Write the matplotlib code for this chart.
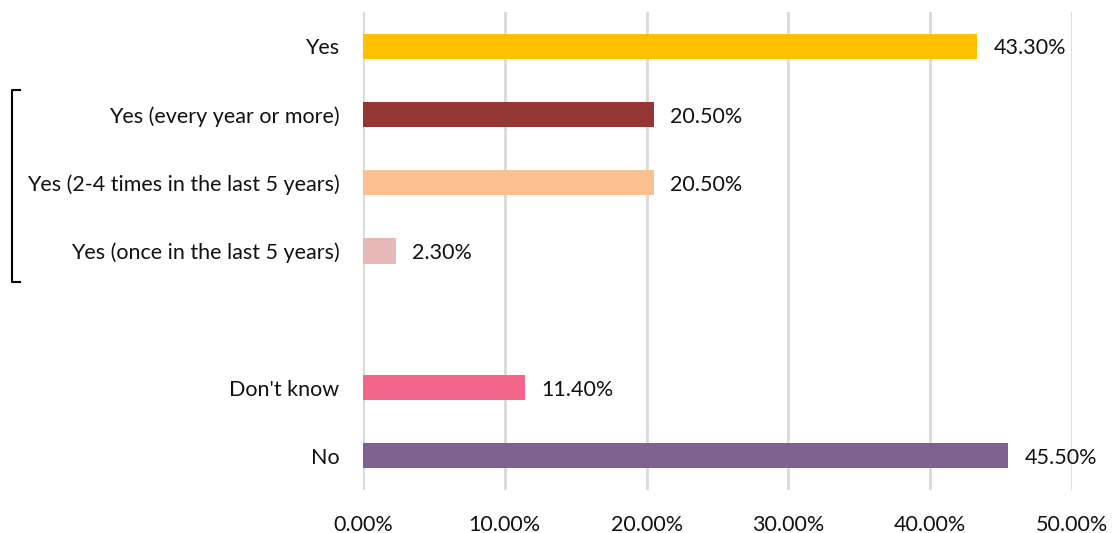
import numpy as np
import matplotlib.pyplot as plt
from matplotlib.lines import Line2D

# categories top to bottom, None marks the blank slot between groups
labels = ["Yes", "Yes (every year or more)", "Yes (2-4 times in the last 5 years)",
          "Yes (once in the last 5 years)", None, "Don't know", "No"]
values = [43.3, 20.5, 20.5, 2.3, None, 11.4, 45.5]
colors = ["#FFC000", "#943634", "#FAC090", "#E6B9B8", None, "#F06588", "#7F618F"]
xticks = [0, 10, 20, 30, 40, 50]

plt.rcParams['font.family'] = ['Lato', 'DejaVu Sans']
fs = 15.5

fig = plt.figure(figsize=(11.13, 5.33), dpi=100)
ax = fig.add_axes([363 / 1113, 1 - 490 / 533, (1072 - 363) / 1113, 478 / 533])

for i, (lab, val, col) in enumerate(zip(labels, values, colors)):
    if val is None:
        continue
    ax.barh(i, val, height=0.37, color=col, zorder=3)
    ax.annotate(f"{val:.2f}%", (val, i), xytext=(12, -1.5), textcoords="offset points",
                va="center", ha="left", fontsize=fs, color="#111111")

ax.set_ylim(6.5, -0.5)
ax.set_xlim(0, 50)
ax.set_yticks([i for i, l in enumerate(labels) if l is not None])
ax.set_yticklabels([l for l in labels if l is not None], fontsize=fs, color="#111111")
ax.set_xticks(xticks)
ax.set_xticklabels([f"{t:.2f}%" for t in xticks], fontsize=fs, color="#111111")
ax.tick_params(length=0)
ax.tick_params(axis="y", pad=17)
ax.tick_params(axis="x", pad=18)
ax.grid(axis="x", color="#D9D9D9", linewidth=2, zorder=0)
for s in ax.spines.values():
    s.set_visible(False)

# bracket grouping the "Yes" sub-answers
bx0, bx1 = 12 / 1113, 20 / 1113
by0, by1 = 1 - 90 / 533, 1 - 282 / 533
fig.add_artist(Line2D([bx1, bx0, bx0, bx1], [by0, by0, by1, by1],
                      transform=fig.transFigure, color="black", linewidth=1.5))

plt.savefig("out.png", dpi=100)
